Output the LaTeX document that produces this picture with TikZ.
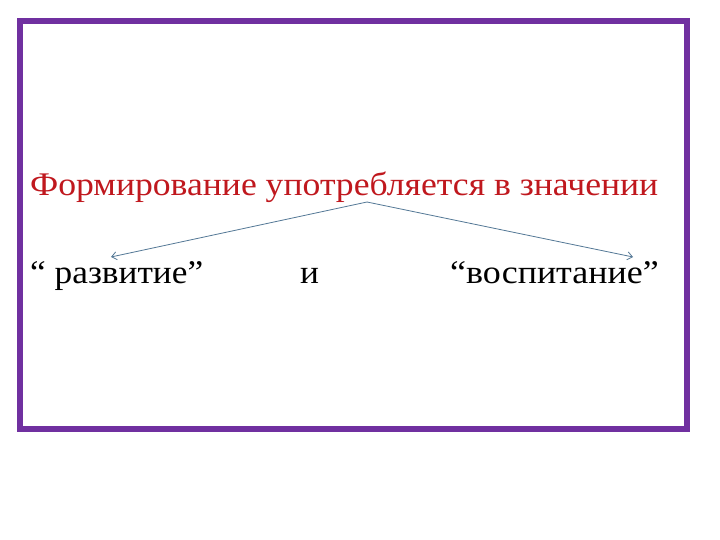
\documentclass[tikz,border=0pt]{standalone}
\usepackage{fontspec}
\setmainfont{Liberation Serif}
\usetikzlibrary{arrows.meta}
\definecolor{frame}{RGB}{112,48,160}
\definecolor{redtxt}{RGB}{192,24,30}
\definecolor{arr}{RGB}{84,120,150}
\tikzset{
  lbl/.style={inner sep=0pt, anchor=base west, font=\fontsize{33}{38}\selectfont},
  conn/.style={draw=arr, line width=0.8pt, -{Straight Barb[length=5pt,width=8pt]}}
}
\begin{document}
\begin{tikzpicture}[x=1pt,y=-1pt]
\useasboundingbox (0,0) rectangle (720,540);
\fill[white] (0,0) rectangle (720,540);
\draw[frame, line width=6pt] (20,21) rectangle (687,429);
\node[lbl, text=redtxt] (title) at (30,196) {\scalebox{1.08}[1]{Формирование употребляется в значении}};
\node[lbl] (razv) at (30,283) {\scalebox{1.07}[1]{“ развитие”}};
\node[lbl] (i) at (300,283) {\scalebox{1.07}[1]{и}};
\node[lbl] (vosp) at (450,283) {\scalebox{1.09}[1]{“воспитание”}};
\coordinate (top) at (367,202);
\coordinate (lt) at (111,257);
\coordinate (rt) at (633,257);
\draw[conn] (top) -- (lt);
\draw[conn] (top) -- (rt);
\end{tikzpicture}
\end{document}
